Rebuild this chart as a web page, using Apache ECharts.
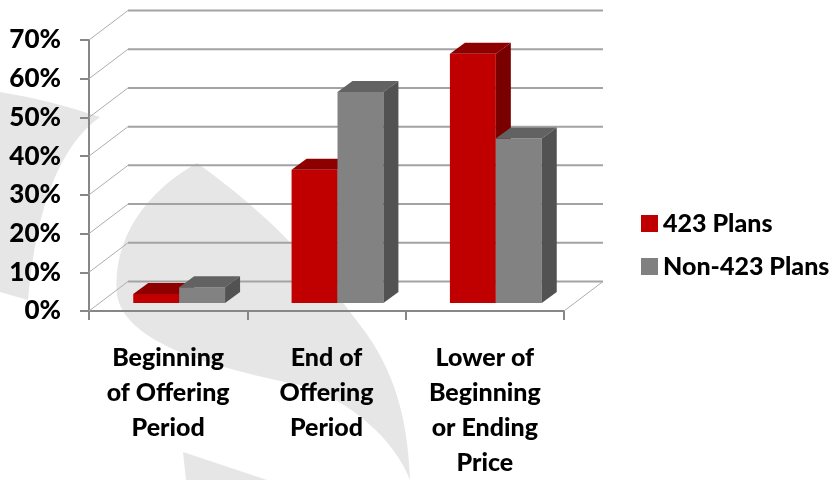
<!DOCTYPE html>
<html>
<head>
<meta charset="utf-8">
<script src="https://cdn.jsdelivr.net/npm/echarts@6/dist/echarts.min.js"></script>
<style>
  html, body { margin: 0; padding: 0; background: #fff; }
  #chart { width: 838px; height: 480px; }
</style>
</head>
<body>
<div id="chart"></div>
<script>
var categories = ['Beginning\nof Offering\nPeriod', 'End of\nOffering\nPeriod', 'Lower of\nBeginning\nor Ending\nPrice'];
var plans423 = [2.3, 34.4, 64.4];
var plansNon423 = [4.1, 54.5, 42.5];
var yTicks = [0, 10, 20, 30, 40, 50, 60, 70];

var font = 'Lato, "Open Sans", sans-serif';

// perspective offsets (px): wall depth, bar front offset, bar depth
var WALL = [39, -29.5];
var SHIFT = [11, -8];
var DEPTH = [15, -11];

// faint logo watermark behind the chart
var watermark = [
    'M0,92 Q50,100 100,117 Q40,160 28,300 L0,292 Z',
    'M197,163 C145,192 112,240 117,295 C125,340 200,365 300,385 C350,400 395,440 410,480 C408,420 395,370 360,325 C320,270 270,215 197,163 Z',
    'M183,452 L267,480 L186,480 Z'
];

var chart = echarts.init(document.getElementById('chart'));

function watermarkItem() {
    return {
        type: 'group',
        children: watermark.map(function (d) {
            return { type: 'path', shape: { pathData: d }, style: { fill: '#e6e6e6' } };
        })
    };
}

function wallItem(params, api) {
    var cs = params.coordSys;
    var y = api.coord([0, api.value(1)])[1];
    var x0 = cs.x, x1 = cs.x + cs.width;
    var children = [
        { type: 'line', shape: { x1: x0, y1: y, x2: x0 + WALL[0], y2: y + WALL[1] },
          style: { stroke: '#adadad', lineWidth: 1 } },
        { type: 'line', shape: { x1: x0 + WALL[0], y1: y + WALL[1], x2: x1 + WALL[0], y2: y + WALL[1] },
          style: { stroke: '#a3a3a3', lineWidth: 2 } }
    ];
    if (api.value(1) === 0) {
        children.push({ type: 'line', shape: { x1: x1, y1: y, x2: x1 + WALL[0], y2: y + WALL[1] },
            style: { stroke: '#adadad', lineWidth: 1 } });
    }
    return { type: 'group', children: children };
}

function barRenderer(side, colors) {
    return function (params, api) {
        var i = api.value(0);
        var base = api.coord([i, 0]);
        var top = api.coord([i, api.value(1)]);
        var bw = api.size([1, 0])[0] * 0.29;
        var x0 = base[0] + SHIFT[0] + (side === 0 ? -bw : 0);
        var x1 = x0 + bw;
        var yb = base[1] + SHIFT[1];
        var yt = top[1] + SHIFT[1];
        return {
            type: 'group',
            children: [
                { type: 'rect', shape: { x: x0, y: yt, width: bw, height: yb - yt },
                  style: { fill: colors[0] } },
                { type: 'polygon', shape: { points: [[x0, yt], [x1, yt], [x1 + DEPTH[0], yt + DEPTH[1]], [x0 + DEPTH[0], yt + DEPTH[1]]] },
                  style: { fill: colors[1] } },
                { type: 'polygon', shape: { points: [[x1, yt], [x1 + DEPTH[0], yt + DEPTH[1]], [x1 + DEPTH[0], yb + DEPTH[1]], [x1, yb]] },
                  style: { fill: colors[2] } }
            ]
        };
    };
}

var option = {
    animation: false,
    backgroundColor: '#ffffff',
    textStyle: { fontFamily: font },
    legend: {
        orient: 'vertical',
        left: 636,
        top: 206,
        itemWidth: 17,
        itemHeight: 17,
        itemGap: 18,
        icon: 'rect',
        textStyle: { fontFamily: font, fontSize: 25, fontWeight: 900, color: '#000', lineHeight: 25 },
        data: ['423 Plans', 'Non-423 Plans']
    },
    grid: { left: 89, top: 40, width: 475, height: 275 },
    xAxis: {
        type: 'category',
        data: categories,
        axisLine: { lineStyle: { color: '#878787', width: 2 } },
        axisTick: { show: true, length: 9, lineStyle: { color: '#878787', width: 2 } },
        axisLabel: { color: '#000', fontFamily: font, fontSize: 25, fontWeight: 900, lineHeight: 35, margin: 29, interval: 0 }
    },
    yAxis: {
        type: 'value',
        min: 0,
        max: 70,
        interval: 10,
        axisLine: { show: true, lineStyle: { color: '#878787', width: 2 } },
        axisTick: { show: true, length: 9, lineStyle: { color: '#878787', width: 2 } },
        splitLine: { show: false },
        axisLabel: { color: '#000', fontFamily: font, fontSize: 26, fontWeight: 900, margin: 28, formatter: '{value}%' }
    },
    series: [
        {
            type: 'custom',
            name: 'watermark',
            silent: true,
            z: -1,
            renderItem: watermarkItem,
            data: [[0, 0]]
        },
        {
            type: 'custom',
            name: 'wall',
            silent: true,
            z: 1,
            renderItem: wallItem,
            data: yTicks.map(function (v) { return [0, v]; })
        },
        {
            type: 'custom',
            name: '423 Plans',
            itemStyle: { color: '#c00000' },
            z: 3,
            renderItem: barRenderer(0, ['#c00000', '#8e0000', '#7a0000']),
            data: plans423.map(function (v, i) { return [i, v]; })
        },
        {
            type: 'custom',
            name: 'Non-423 Plans',
            itemStyle: { color: '#808080' },
            z: 4,
            renderItem: barRenderer(1, ['#828282', '#626262', '#525252']),
            data: plansNon423.map(function (v, i) { return [i, v]; })
        }
    ]
};

chart.setOption(option);
</script>
</body>
</html>
